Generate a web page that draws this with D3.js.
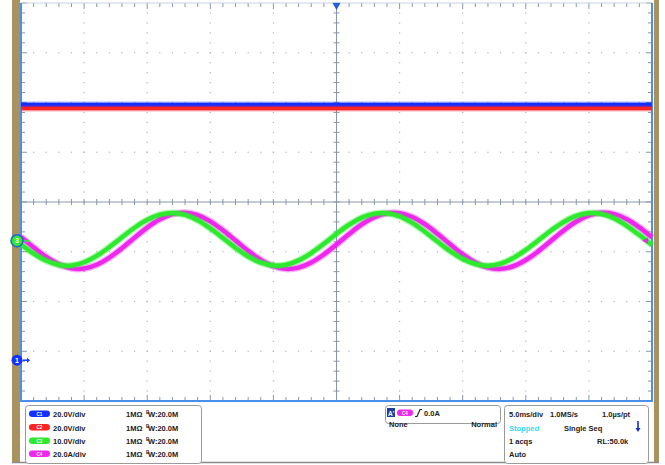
<!DOCTYPE html>
<html>
<head>
<meta charset="utf-8">
<script src="https://cdn.jsdelivr.net/npm/d3@7"></script>
<style>
  html, body { margin: 0; padding: 0; background: #fff; }
  svg { display: block; font-family: "Liberation Sans", Arial, sans-serif; }
</style>
</head>
<body>
<script>
// acquisition, time in ms (trigger at 0)
const timeMs = [-25, -24, -23, -22, -21, -20, -19, -18, -17, -16, -15, -14, -13, -12, -11, -10, -9, -8, -7, -6, -5, -4, -3, -2, -1,
  0, 1, 2, 3, 4, 5, 6, 7, 8, 9, 10, 11, 12, 13, 14, 15, 16, 17, 18, 19, 20, 21, 22, 23, 24, 25];
const c3Volts = [-0.74, -2.58, -4.02, -4.85, -4.95, -4.31, -3.03, -1.28, 0.70, 2.62, 4.21, 5.26, 5.60, 5.20, 4.11, 2.48, 0.55, -1.42, -3.15, -4.39, -4.97, -4.81, -3.93, -2.46, -0.60,
  1.39, 3.23, 4.65, 5.46, 5.54, 4.89, 3.59, 1.83, -0.15, -2.06, -3.65, -4.67, -5.00, -4.58, -3.47, -1.84, 0.10, 2.07, 3.78, 5.01, 5.57, 5.40, 4.50, 3.02, 1.15, -0.84];
const c4Amps = [1.59, -2.64, -6.50, -9.45, -11.07, -11.13, -9.62, -6.76, -2.95, 1.28, 5.32, 8.62, 10.71, 11.28, 10.27, 7.83, 4.26, 0.11, -4.06, -7.66, -10.19, -11.27, -10.77, -8.76, -5.51,
  -1.49, 2.74, 6.59, 9.51, 11.09, 11.11, 9.56, 6.67, 2.85, -1.38, -5.42, -8.69, -10.74, -11.28, -10.23, -7.74, -4.16, 0.00, 4.16, 7.74, 10.23, 11.28, 10.74, 8.69, 5.42, 1.38];
const dcTimeMs = [-25, 25];
const c1Volts = [102.6, 102.6];
const c2Volts = [101.2, 101.2];

const channelNames = ["C1", "C2", "C3", "C4"];
const channelScales = ["20.0V/div", "20.0V/div", "10.0V/div", "20.0A/div"];
const unitsPerDiv = [20, 20, 10, 20];
const channelOffsetDiv = [-3.18, -3.18, -0.78, -0.78];
const channelColors = ["#1430ff", "#ff2424", "#2eea2e", "#ee26ee"];

const W = 665, H = 465;
const plot = {left: 21, right: 652, top: 3, bottom: 401};

const svg = d3.select("body").append("svg").attr("width", W).attr("height", H);

const x = d3.scaleLinear().domain([-25, 25]).range([plot.left, plot.right]);
const yDiv = d3.scaleLinear().domain([-4, 4]).range([plot.bottom, plot.top]);
const xDiv = d3.scaleLinear().domain([0, 10]).range([plot.left, plot.right]);
const yCh = (ch, v) => yDiv(channelOffsetDiv[ch] + v / unitsPerDiv[ch]);

// tan bezel strips
svg.append("rect").attr("x", 12).attr("y", 0).attr("width", 8).attr("height", 462).attr("fill", "#a8925f");
svg.append("rect").attr("x", 654).attr("y", 0).attr("width", 5).attr("height", 462).attr("fill", "#a8925f");

// dotted graticule
const grid = svg.append("g").attr("fill", "#b4b4b4");
const minorX = d3.range(0, 51).map(i => i / 5);
const minorY = d3.range(0, 41).map(i => i / 5 - 4);
[1, 2, 3, 4, 6, 7, 8, 9].forEach(d => {
  grid.selectAll(null).data(minorY.slice(1, -1)).enter().append("rect")
    .attr("x", xDiv(d) - 0.6).attr("y", v => yDiv(v) - 0.6).attr("width", 1.2).attr("height", 1.2);
});
[-3, -2, -1, 1, 2, 3].forEach(d => {
  grid.selectAll(null).data(minorX.slice(1, -1)).enter().append("rect")
    .attr("x", v => xDiv(v) - 0.6).attr("y", yDiv(d) - 0.6).attr("width", 1.2).attr("height", 1.2);
});

// centre cross with ticks
const cross = svg.append("g").attr("stroke", "#8796aa").attr("stroke-width", 1);
cross.append("line").attr("x1", xDiv(5)).attr("x2", xDiv(5)).attr("y1", plot.top).attr("y2", plot.bottom);
cross.append("line").attr("x1", plot.left).attr("x2", plot.right).attr("y1", yDiv(0)).attr("y2", yDiv(0));
cross.selectAll(null).data(minorY).enter().append("line")
  .attr("x1", xDiv(5) - 3).attr("x2", xDiv(5) + 3).attr("y1", d => yDiv(d)).attr("y2", d => yDiv(d));
cross.selectAll(null).data(minorX).enter().append("line")
  .attr("y1", yDiv(0) - 3).attr("y2", yDiv(0) + 3).attr("x1", d => xDiv(d)).attr("x2", d => xDiv(d));

// edge ticks
const edge = svg.append("g").attr("stroke", "#8796aa").attr("stroke-width", 1);
const isMajor = v => Math.abs(v - Math.round(v)) < 1e-6;
edge.selectAll(null).data(minorX).enter().append("line")
  .attr("x1", d => xDiv(d)).attr("x2", d => xDiv(d)).attr("y1", plot.top).attr("y2", d => plot.top + (isMajor(d) ? 6 : 4));
edge.selectAll(null).data(minorX).enter().append("line")
  .attr("x1", d => xDiv(d)).attr("x2", d => xDiv(d)).attr("y1", plot.bottom).attr("y2", d => plot.bottom - (isMajor(d) ? 6 : 4));
edge.selectAll(null).data(minorY).enter().append("line")
  .attr("y1", d => yDiv(d)).attr("y2", d => yDiv(d)).attr("x1", plot.left).attr("x2", d => plot.left + (isMajor(d) ? 6 : 4));
edge.selectAll(null).data(minorY).enter().append("line")
  .attr("y1", d => yDiv(d)).attr("y2", d => yDiv(d)).attr("x1", plot.right).attr("x2", d => plot.right - (isMajor(d) ? 6 : 4));

// border
svg.append("line").attr("x1", plot.left).attr("x2", plot.right).attr("y1", plot.top).attr("y2", plot.top)
  .attr("stroke", "#c4d2e4").attr("stroke-width", 1);
const border = svg.append("g").attr("stroke", "#4b8fe8").attr("stroke-width", 2).attr("fill", "none");
border.append("path").attr("d", `M${plot.left},${plot.top}V${plot.bottom}H${plot.right}V${plot.top}`);

// traces
const traces = [
  {ch: 0, t: dcTimeMs, v: c1Volts, w: 4.5},
  {ch: 1, t: dcTimeMs, v: c2Volts, w: 3.5},
  {ch: 3, t: timeMs, v: c4Amps, w: 4.5},
  {ch: 2, t: timeMs, v: c3Volts, w: 4.5}
];
const traceG = svg.append("g").attr("fill", "none");
traces.forEach(tr => {
  const line = d3.line()
    .x((d, i) => x(tr.t[i]))
    .y(d => yCh(tr.ch, d))
    .curve(d3.curveCatmullRom);
  traceG.append("path").attr("d", line(tr.v)).attr("stroke", channelColors[tr.ch])
    .attr("stroke-width", tr.w + 2.5).attr("stroke-opacity", 0.35);
  traceG.append("path").attr("d", line(tr.v)).attr("stroke", channelColors[tr.ch])
    .attr("stroke-width", tr.w);
});

// trigger position marker
svg.append("path").attr("d", `M${xDiv(5) - 4},${plot.top}h8l-4,7z`).attr("fill", "#1f5fe0");
// trigger level marker (C4)
const trigY = yCh(3, 0);
svg.append("path").attr("d", `M${plot.right - 4},${trigY - 3}v6l-6,-3z`).attr("fill", channelColors[3]);

// channel ground markers
const gnd = svg.append("g");
function chMarker(ch, label, ring) {
  const y0 = yCh(ch, 0);
  gnd.append("path").attr("d", `M23,${y0}h5`).attr("stroke", channelColors[ch]).attr("stroke-width", 1.5);
  gnd.append("path").attr("d", `M27,${y0 - 2.5}l3,2.5l-3,2.5z`).attr("fill", channelColors[ch]);
  gnd.append("circle").attr("cx", 17).attr("cy", y0).attr("r", ring ? 6 : 5.5)
    .attr("fill", channelColors[ch]).attr("stroke", ring ? "#1f5fe0" : "none").attr("stroke-width", 1.5);
  gnd.append("text").attr("x", 17).attr("y", y0 + 2.5).attr("text-anchor", "middle")
    .attr("font-size", 7).attr("font-weight", "bold").attr("fill", "#fff").text(label);
}
chMarker(0, "1", false);
chMarker(2, "3", true);

// bottom info panel
svg.append("line").attr("x1", 12).attr("x2", 659).attr("y1", 462.5).attr("y2", 462.5)
  .attr("stroke", "#8a8a8a").attr("stroke-width", 1.5);

const info = svg.append("g").attr("font-size", 7.5).attr("font-weight", "bold").attr("fill", "#222");
const box = (x0, y0, w, h) => info.append("rect").attr("x", x0).attr("y", y0).attr("width", w).attr("height", h)
  .attr("rx", 3).attr("fill", "#fff").attr("stroke", "#9a9a9a").attr("stroke-width", 1);

box(25.5, 405.5, 176, 58);
const rowY = [417, 430.5, 444, 457];
channelNames.forEach((name, i) => {
  info.append("rect").attr("x", 29).attr("y", rowY[i] - 6.5).attr("width", 21).attr("height", 6.5).attr("rx", 3.2)
    .attr("fill", channelColors[i]);
  info.append("text").attr("x", 39.5).attr("y", rowY[i] - 1.3).attr("text-anchor", "middle")
    .attr("font-size", 4.5).attr("fill", "#fff").text(name);
  info.append("text").attr("x", 53).attr("y", rowY[i]).text(channelScales[i]);
  info.append("text").attr("x", 126).attr("y", rowY[i]).text("1MΩ");
  info.append("text").attr("x", 146).attr("y", rowY[i] - 3).attr("font-size", 4.5).text("B");
  info.append("text").attr("x", 148).attr("y", rowY[i]).text("W:20.0M");
});

// trigger box
box(385.5, 405.5, 115, 18);
info.append("rect").attr("x", 387).attr("y", 408).attr("width", 8).attr("height", 9).attr("fill", "#1d3f9a");
info.append("text").attr("x", 388).attr("y", 415.5).attr("font-size", 6.5).attr("fill", "#fff").text("A'");
info.append("rect").attr("x", 397).attr("y", 409.5).attr("width", 16).attr("height", 6.5).attr("rx", 3.2)
  .attr("fill", channelColors[3]);
info.append("text").attr("x", 405).attr("y", 414.7).attr("text-anchor", "middle")
  .attr("font-size", 4.5).attr("fill", "#fff").text("C4");
info.append("path").attr("d", "M415,416.5h2l3,-7h2").attr("fill", "none").attr("stroke", "#222").attr("stroke-width", 1.2);
info.append("text").attr("x", 424).attr("y", 416).text("0.0A");
info.append("text").attr("x", 389).attr("y", 426.5).text("None");
info.append("text").attr("x", 497).attr("y", 426.5).attr("text-anchor", "end").text("Normal");

// timebase box
box(504.5, 405.5, 144, 58);
info.append("text").attr("x", 509).attr("y", rowY[0]).text("5.0ms/div");
info.append("text").attr("x", 550).attr("y", rowY[0]).text("1.0MS/s");
info.append("text").attr("x", 602).attr("y", rowY[0]).text("1.0µs/pt");
info.append("text").attr("x", 509).attr("y", rowY[1]).attr("fill", "#36d8f0").text("Stopped");
info.append("text").attr("x", 564).attr("y", rowY[1]).text("Single Seq");
info.append("path").attr("d", "M638,421v8").attr("stroke", "#1430c8").attr("stroke-width", 1.6);
info.append("path").attr("d", "M635.5,428h5l-2.5,4z").attr("fill", "#1430c8");
info.append("text").attr("x", 509).attr("y", rowY[2]).text("1 acqs");
info.append("text").attr("x", 597).attr("y", rowY[2]).text("RL:50.0k");
info.append("text").attr("x", 509).attr("y", rowY[3]).text("Auto");
</script>
</body>
</html>
